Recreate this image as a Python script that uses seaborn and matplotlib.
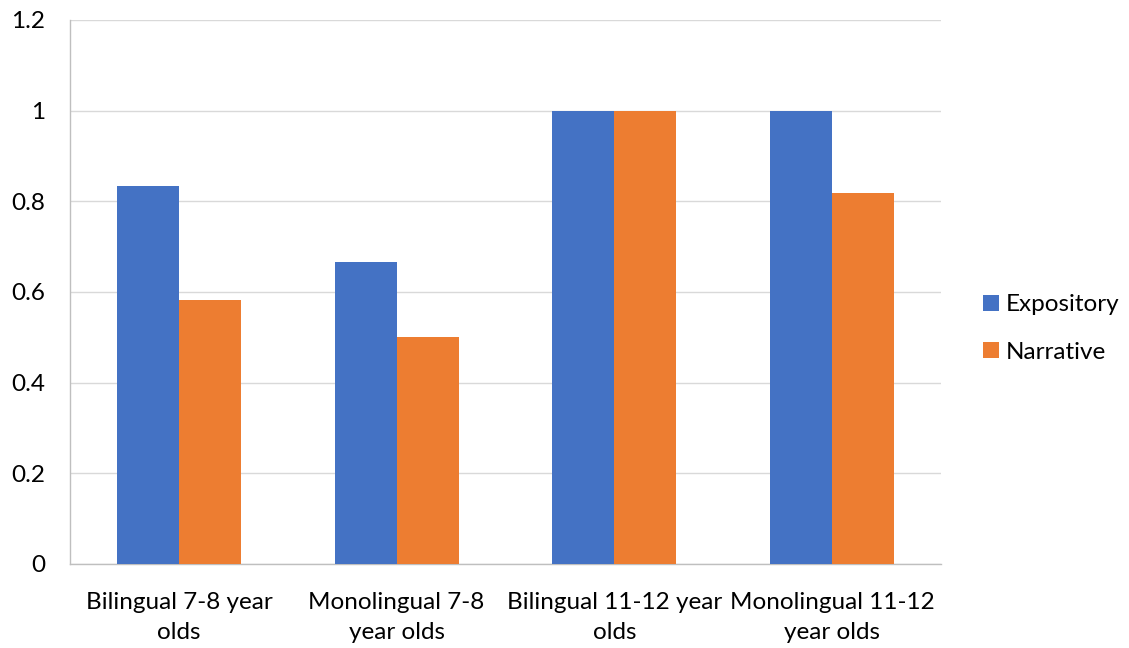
import matplotlib
matplotlib.use("Agg")
import matplotlib.pyplot as plt
import seaborn as sns
import pandas as pd

categories = ["Bilingual 7-8 year\nolds", "Monolingual 7-8\nyear olds",
              "Bilingual 11-12 year\nolds", "Monolingual 11-12\nyear olds"]
expository = [0.833, 0.667, 1.0, 1.0]
narrative = [0.583, 0.5, 1.0, 0.818]
series = ["Expository", "Narrative"]
yticks = [0, 0.2, 0.4, 0.6, 0.8, 1.0, 1.2]
ytick_labels = ["0", "0.2", "0.4", "0.6", "0.8", "1", "1.2"]

df = pd.DataFrame({
    "group": categories * 2,
    "value": expository + narrative,
    "series": [series[0]] * 4 + [series[1]] * 4,
})

sns.set_style("white")
plt.rcParams["font.family"] = ["Lato", "DejaVu Sans"]
plt.rcParams["text.color"] = "black"
plt.rcParams["xtick.labelcolor"] = "black"
plt.rcParams["ytick.labelcolor"] = "black"

fig = plt.figure(figsize=(11.29, 6.48), dpi=100)
ax = fig.add_axes([70 / 1129, 84 / 648, 871 / 1129, 544 / 648])

sns.barplot(data=df, x="group", y="value", hue="series",
            palette=["#4472C4", "#ED7D31"], width=0.57, saturation=1,
            order=categories, hue_order=series, ax=ax, linewidth=0,
            zorder=3)

ax.set_xlim(-0.5, 3.5)
ax.set_ylim(0, 1.2)
ax.set_yticks(yticks)
ax.set_yticklabels(ytick_labels, fontsize=17.5)
ax.yaxis.grid(True, color="#D9D9D9", linewidth=1)
ax.set_axisbelow(True)
ax.set_xlabel("")
ax.set_ylabel("")

for side in ["top", "right"]:
    ax.spines[side].set_visible(False)
for side in ["left", "bottom"]:
    ax.spines[side].set_color("#BFBFBF")
    ax.spines[side].set_linewidth(1)

# category labels centred on each group, tick marks on group boundaries
ax.set_xticks(range(len(categories)))
ax.set_xticklabels(categories, fontsize=17.5, linespacing=1.55)
ax.tick_params(axis="x", length=0, pad=20)
ax.set_xticks([i - 0.5 for i in range(len(categories) + 1)], minor=True)
ax.tick_params(axis="x", which="minor", length=6, color="#BFBFBF", width=1)
ax.tick_params(axis="y", length=6, color="#BFBFBF", width=1, pad=12)

leg = ax.legend(loc="center left", bbox_to_anchor=(1.023, 0.433),
                frameon=False, fontsize=17.5, handlelength=0.65,
                handleheight=0.65, handletextpad=0.3, labelspacing=1.08)
for txt in leg.get_texts():
    txt.set_color("black")

fig.savefig("out.png", dpi=100)
